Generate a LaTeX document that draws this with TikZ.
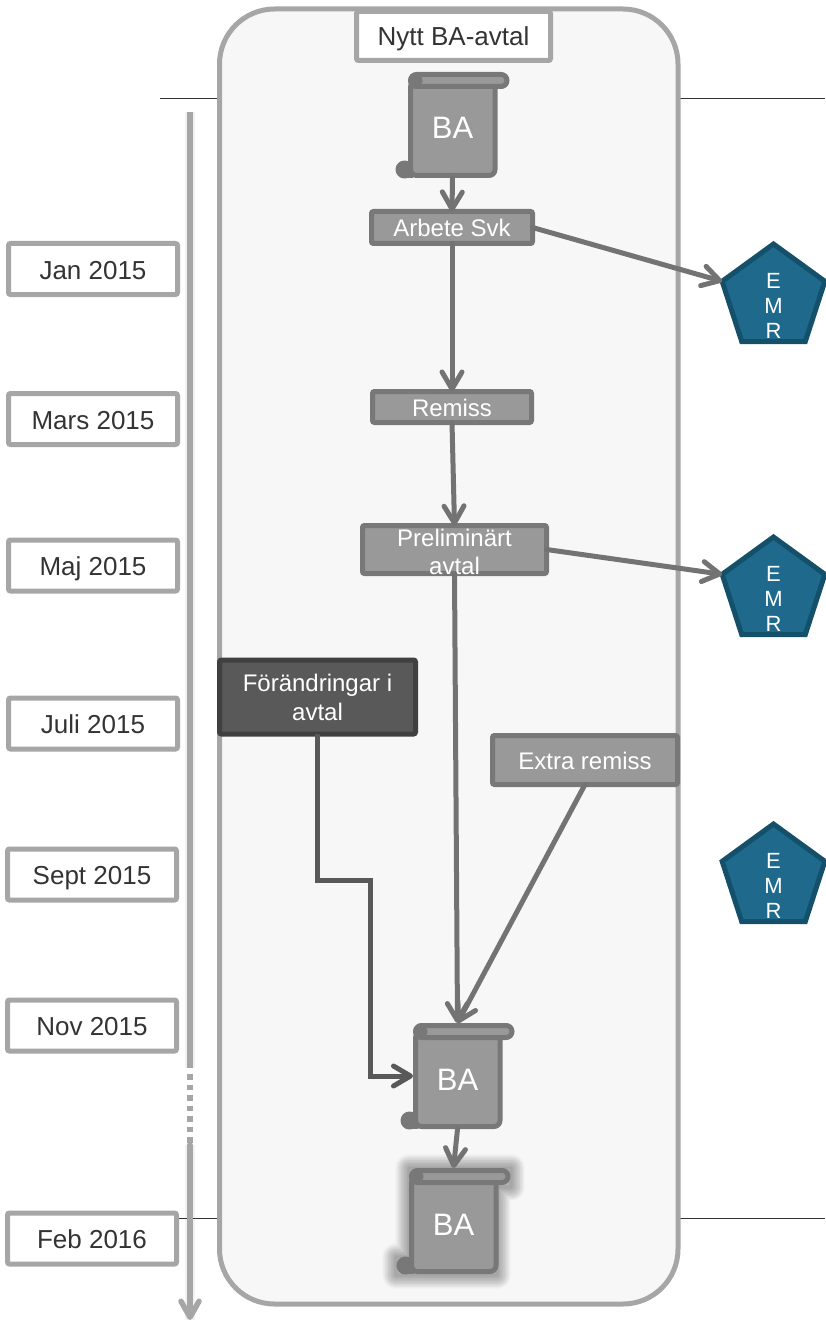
\documentclass[tikz,border=0pt]{standalone}
\usepackage{fontspec}
\setmainfont{Liberation Sans}
\usetikzlibrary{arrows.meta,shapes.geometric}
\definecolor{ramgra}{HTML}{A6A6A6}
\definecolor{rullkant}{HTML}{787878}
\definecolor{rullfyll}{HTML}{999999}
\definecolor{pilgra}{HTML}{737373}
\definecolor{morkkant}{HTML}{404040}
\definecolor{morkfyll}{HTML}{595959}
\definecolor{emrkant}{HTML}{14506A}
\definecolor{emrfyll}{HTML}{1F6A8C}
\tikzset{
	datum/.style={draw=ramgra, line width=5pt, fill=white, rounded corners=2pt, minimum width=169pt, minimum height=51pt, inner sep=0pt, outer sep=0pt, text=black!80, text height=20pt, text depth=0pt, font=\fontsize{26}{31}\selectfont},
	steg/.style={draw=rullkant, line width=5pt, fill=rullfyll, rounded corners=2pt, inner sep=0pt, outer sep=0pt, text=white, align=center, font=\fontsize{24}{29}\selectfont},
	enrad/.style={text height=18.5pt, text depth=0pt},
	stegtext/.style={inner sep=0pt, text=white, align=center, font=\fontsize{24}{28}\selectfont},
	flode/.style={draw=pilgra, line width=5pt, line cap=round, -{Straight Barb[length=17pt,width=20pt,round]}},
	rulltext/.style={inner sep=0pt, outer sep=0pt, minimum width=89pt, minimum height=106pt, text=white, text height=28pt, text depth=0pt, font=\fontsize{31}{36}\selectfont},
	emr/.style={regular polygon, regular polygon sides=5, draw=emrkant, line width=5pt, fill=emrfyll, minimum size=108pt, inner sep=0pt, outer sep=0pt},
	emrtext/.style={inner sep=0pt, text=white, align=center, font=\fontsize{22}{25}\selectfont},
}
\def\rulle[#1](#2,#3){
	\begin{scope}[shift={(#2,#3)}, draw=rullkant, line width=5pt, line join=round]
		\draw[fill=rullkant] (-48,44.5) circle (6.5);
		\fill[rullkant] (-48,48) rectangle (-40,53);
		\draw[fill=rullfyll, rounded corners=6pt] (-42,-44) -- (-42,50.5) -- (42.5,50.5) -- (42.5,-44) -- cycle;
		\draw[fill=rullfyll, rounded corners=5.9pt] (-42,-50.5) rectangle (54.5,-38.5);
		\fill[rullkant] (-36,-44.5) circle (6);
	\end{scope}
	\node[rulltext] (#1) at (#2,#3) {BA};
}
\def\emrform(#1,#2,#3){
	\node[emr] (#1) at (#2,#3) {};
	\node[emrtext] (#1text) at (#2,#3+8) {E\\M\\R};
}

\begin{document}
\begin{tikzpicture}[x=1pt,y=-1pt]
			%%%%% START %%%%%
			\useasboundingbox (0,0) rectangle (825,1324);
			
			\draw[line width=1pt, black!80] (160,99) -- (218,99);
			\draw[line width=1pt, black!80] (678,99) -- (825,99);
			\draw[line width=1pt, black!80] (176,1218) -- (218,1218);
			\draw[line width=1pt, black!80] (678,1218) -- (825,1218);
			
			\draw[draw=ramgra, line width=5pt, fill=black!3, rounded corners=55pt] (219.5,9) rectangle (678,1304);
			
			% tidslinje
			\coordinate (tid0) at (190,112);
			\coordinate (tid1) at (190,1068);
			\coordinate (tid2) at (190,1074);
			\coordinate (tid3) at (190,1145);
			\coordinate (tid4) at (190,1320);
			\draw[line width=10pt, black, opacity=0.05] (tid0) -- (tid1);
			\draw[line width=10pt, black, opacity=0.05] (tid3) -- (tid4);
			\draw[line width=5.5pt, ramgra] (tid0) -- (tid1);
			\draw[line width=5.5pt, ramgra, dash pattern=on 5.5pt off 5pt] (tid2) -- (tid3);
			\draw[line width=5.5pt, ramgra, line cap=round, -{Straight Barb[length=16pt,width=18pt,round]}] (tid3) -- (tid4);
			
			\node[datum] (jan) at (93,269) {Jan 2015};
			\node[datum] (mars) at (93,419) {Mars 2015};
			\node[datum] (maj) at (93,565.5) {Maj 2015};
			\node[datum] (juli) at (93,723.5) {Juli 2015};
			\node[datum] (sept) at (92,874.5) {Sept 2015};
			\node[datum] (nov) at (92,1025.5) {Nov 2015};
			\node[datum] (feb) at (92,1238.5) {Feb 2016};
			
			\node[datum, minimum width=194pt, minimum height=49pt] (nytt) at (453.5,36) {Nytt BA-avtal};
			
			% skuggan kring sista rullen
			\foreach \g in {2,3.5,...,28}
				\draw[line width=\g pt, line join=round, black, opacity=0.018] (409,1168) -- (511,1168) -- (511,1187) -- (497,1187) -- (497,1275) -- (396,1275) -- (396,1257) -- (409,1257) -- cycle;
			
			\rulle[ba1](452.5,125)
			\rulle[ba2](457.5,1076)
			\rulle[ba3](453.5,1221)
			
			\node[steg, enrad, minimum width=161pt, minimum height=32pt] (arbete) at (452,227.5) {Arbete Svk};
			\node[steg, enrad, minimum width=159pt, minimum height=31pt] (remiss) at (452,407) {Remiss};
			\node[steg, minimum width=184pt, minimum height=48pt] (prelim) at (454.5,549.5) {};
			\node[stegtext] (prelimtext) at (454.5,552) {Preliminärt\\avtal};
			\node[steg, draw=morkkant, fill=morkfyll, minimum width=196pt, minimum height=74pt] (forand) at (317.5,697) {Förändringar i\\avtal};
			\node[steg, enrad, minimum width=185pt, minimum height=49pt] (extra) at (585,760) {Extra remiss};
			
			\emrform(emr1,773.5,298)
			\emrform(emr2,773.5,591)
			\emrform(emr3,773.5,878)
			
			\coordinate (kink) at (370,880);
			
			\draw[flode] (ba1.south) -- (arbete.north);
			\draw[flode] (arbete.south) -- (remiss.north);
			\draw[flode] (arbete.east) -- (emr1.corner 2);
			\draw[flode] (remiss.south) -- (prelim.north);
			\draw[flode] (prelim.east) -- (emr2.corner 2);
			\draw[flode] (prelim.south) -- (ba2.north);
			\draw[flode] (extra.south) -- (ba2.north);
			\draw[flode, draw=morkfyll, line cap=butt, line join=miter] (forand.south) |- (kink) |- (ba2.west);
			\draw[flode] (ba2.south) -- (ba3.north);
			
			%%%%% END %%%%%
		\end{tikzpicture}
\end{document}
